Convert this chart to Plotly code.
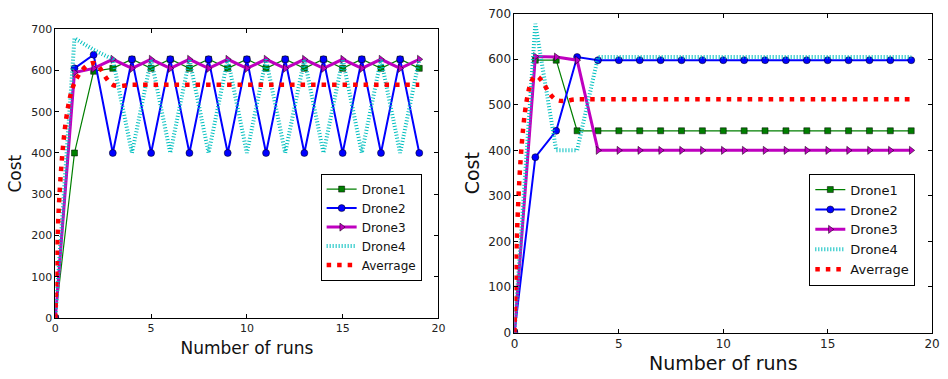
import plotly.graph_objects as go

runs = list(range(20))

# Left chart
l_drone1 = [0, 400, 598, 605, 627, 605, 627, 605, 627, 605, 627, 605, 627, 605, 627, 605, 627, 605, 627, 605]
l_drone2 = [0, 605, 638, 400, 627, 400, 627, 400, 627, 400, 627, 400, 627, 400, 627, 400, 627, 400, 627, 400]
l_drone3 = [0, 595, 605, 627, 605, 627, 605, 627, 605, 627, 605, 627, 605, 627, 605, 627, 605, 627, 605, 627]
l_drone4 = [0, 678, 650, 627, 400, 627, 400, 627, 400, 627, 400, 627, 400, 627, 400, 627, 400, 627, 400, 627]
l_avg = [0, 570, 618, 565, 565, 565, 565, 565, 565, 565, 565, 565, 565, 565, 565, 565, 565, 565, 565, 565]

# Right chart
r_drone1 = [0, 598, 598, 443, 443, 443, 443, 443, 443, 443, 443, 443, 443, 443, 443, 443, 443, 443, 443, 443]
r_drone2 = [0, 385, 443, 605, 598, 598, 598, 598, 598, 598, 598, 598, 598, 598, 598, 598, 598, 598, 598, 598]
r_drone3 = [0, 606, 605, 598, 400, 400, 400, 400, 400, 400, 400, 400, 400, 400, 400, 400, 400, 400, 400, 400]
r_drone4 = [0, 678, 400, 400, 605, 605, 605, 605, 605, 605, 605, 605, 605, 605, 605, 605, 605, 605, 605, 605]
r_avg = [0, 563, 511, 512, 512, 512, 512, 512, 512, 512, 512, 512, 512, 512, 512, 512, 512, 512, 512, 512]

names = ["Drone1", "Drone2", "Drone3", "Drone4", "Averrage"]

FONT = "DejaVu Sans"
fig = go.Figure()


def add_series(series, xa, ya, leg):
    d1, d2, d3, d4, avg = series
    edge = dict(color="#000000", width=0.5)
    fig.add_trace(go.Scatter(x=runs, y=d1, name=names[0], mode="lines+markers",
                             line=dict(color="#007f00", width=1.2),
                             marker=dict(symbol="square", size=6, color="#007f00", line=edge),
                             xaxis=xa, yaxis=ya, legend=leg))
    fig.add_trace(go.Scatter(x=runs, y=d2, name=names[1], mode="lines+markers",
                             line=dict(color="#0000ff", width=2),
                             marker=dict(symbol="circle", size=7, color="#0000ff", line=edge),
                             xaxis=xa, yaxis=ya, legend=leg))
    fig.add_trace(go.Scatter(x=runs, y=d3, name=names[2], mode="lines+markers",
                             line=dict(color="#bf00bf", width=3),
                             marker=dict(symbol="triangle-right", size=7, color="#bf00bf", line=edge),
                             xaxis=xa, yaxis=ya, legend=leg))
    fig.add_trace(go.Scatter(x=runs, y=d4, name=names[3], mode="lines",
                             line=dict(color="#00bfbf", width=4, dash="1px,2px"),
                             xaxis=xa, yaxis=ya, legend=leg))
    fig.add_trace(go.Scatter(x=runs, y=avg, name=names[4], mode="lines",
                             line=dict(color="#ff0000", width=4.5, dash="4.5px,6px", shape="spline", smoothing=1.0),
                             xaxis=xa, yaxis=ya, legend=leg))


add_series([l_drone1, l_drone2, l_drone3, l_drone4, l_avg], "x", "y", "legend")
add_series([r_drone1, r_drone2, r_drone3, r_drone4, r_avg], "x2", "y2", "legend2")

axis_common = dict(showline=True, linecolor="#000000", linewidth=1, mirror="ticks",
                   ticks="inside", ticklen=4, tickwidth=1, tickcolor="#000000",
                   showgrid=False, zeroline=False, color="#222222")

fig.update_layout(
    width=948, height=379,
    margin=dict(l=0, r=0, t=0, b=0),
    paper_bgcolor="white", plot_bgcolor="white",
    font=dict(family=FONT, color="#222222"),
    showlegend=True,
    xaxis=dict(domain=[52/948, 440/948], range=[0, 20], tickvals=[0, 5, 10, 15, 20],
               tickfont=dict(size=11), anchor="y",
               title=dict(text="Number of runs", font=dict(size=17, color="#111111"), standoff=7),
               **axis_common),
    yaxis=dict(domain=[1-323/379, 1-23/379], range=[0, 700], dtick=100,
               tickfont=dict(size=11), anchor="x",
               title=dict(text="Cost", font=dict(size=17, color="#111111"), standoff=5),
               **axis_common),
    xaxis2=dict(domain=[517/948, 940/948], range=[0, 20], tickvals=[0, 5, 10, 15, 20],
                tickfont=dict(size=12), anchor="y2",
                title=dict(text="Number of runs", font=dict(size=19, color="#111111"), standoff=6),
                **axis_common),
    yaxis2=dict(domain=[1-338/379, 1-7/379], range=[0, 700], dtick=100,
                tickfont=dict(size=12), anchor="x2",
                title=dict(text="Cost", font=dict(size=19, color="#111111"), standoff=3),
                **axis_common),
    legend=dict(x=423/948, y=1-173/379, xanchor="right", yanchor="top",
                bordercolor="#000000", borderwidth=1, bgcolor="white",
                font=dict(size=12, color="#111111"), itemwidth=30, tracegroupgap=0),
    legend2=dict(x=923/948, y=1-173/379, xanchor="right", yanchor="top",
                 bordercolor="#000000", borderwidth=1, bgcolor="white",
                 font=dict(size=13, color="#111111"), itemwidth=30, tracegroupgap=0),
)

fig.write_html("out.html")
